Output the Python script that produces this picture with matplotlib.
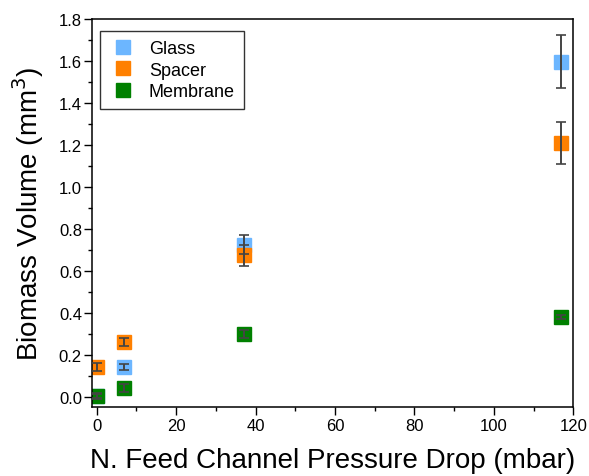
import matplotlib
matplotlib.use("Agg")
import matplotlib.pyplot as plt
from matplotlib.ticker import MultipleLocator

plt.rcParams["font.family"] = ["Liberation Sans", "DejaVu Sans"]

pressure = [0, 7, 37, 117]

glass = [0.005, 0.145, 0.725, 1.597]
glass_err = [0.01, 0.015, 0.045, 0.127]

spacer = [0.145, 0.262, 0.675, 1.212]
spacer_err = [0.02, 0.02, 0.05, 0.1]

membrane = [0.005, 0.045, 0.302, 0.382]
membrane_err = [0.015, 0.018, 0.02, 0.01]

series = [
    ("Glass", glass, glass_err, "#6CB6FF"),
    ("Spacer", spacer, spacer_err, "#FF8000"),
    ("Membrane", membrane, membrane_err, "#008000"),
]

fig = plt.figure(figsize=(5.89, 4.77), dpi=100)
ax = fig.add_axes([0.1567, 0.144, 0.8167, 0.814])

for name, y, err, color in series:
    ax.plot(pressure, y, "s", color=color, markersize=10, linestyle="none",
            label=name, zorder=2)

for name, y, err, color in series:
    line, caps, bars = ax.errorbar(pressure, y, yerr=err, fmt="none",
                                   ecolor="#444444", elinewidth=1.4,
                                   capsize=3.5, capthick=1.2, zorder=3)
    for c in caps:
        c.set_color("black")

ax.set_xlim(-1.1, 120)
ax.set_ylim(-0.048, 1.8)

ax.xaxis.set_major_locator(MultipleLocator(20))
ax.xaxis.set_minor_locator(MultipleLocator(10))
ax.yaxis.set_major_locator(MultipleLocator(0.2))
ax.yaxis.set_minor_locator(MultipleLocator(0.1))
ax.yaxis.set_major_formatter(matplotlib.ticker.FormatStrFormatter("%.1f"))

ax.tick_params(which="major", direction="out", length=5.5, width=1,
               labelsize=12, pad=2, top=False, right=False)
ax.tick_params(which="minor", direction="out", length=3, width=1,
               top=False, right=False)
for s in ax.spines.values():
    s.set_linewidth(1.1)

ax.set_xlabel("N. Feed Channel Pressure Drop (mbar)", fontsize=20, labelpad=10)
ax.set_ylabel("Biomass Volume (mm$^3$)", fontsize=20, labelpad=9)

leg = ax.legend(loc="upper left", bbox_to_anchor=(0.016, 0.969), fontsize=13,
                frameon=True, fancybox=False, edgecolor="black",
                borderpad=0.5, handletextpad=0.6, labelspacing=0.25,
                handlelength=1.6, borderaxespad=0)
leg.get_frame().set_linewidth(1)

fig.savefig("out.png", dpi=100)
